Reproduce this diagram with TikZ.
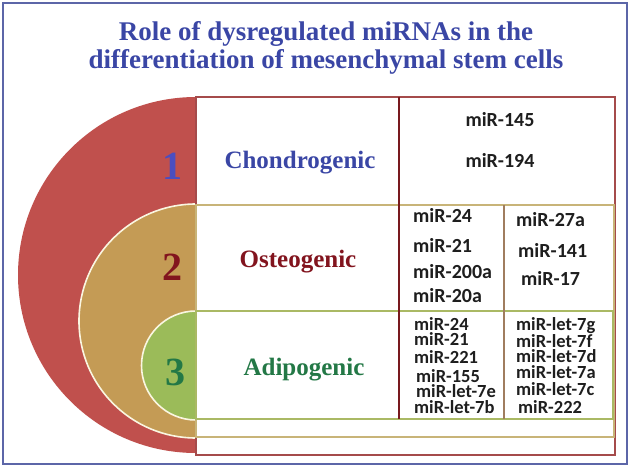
\documentclass[tikz,border=0pt]{standalone}
\usepackage{fontspec}
\setmainfont{Liberation Serif}
\newfontfamily\mirfont{Carlito}
\usepackage{tikz}
\usetikzlibrary{positioning}

\definecolor{titleblue}{RGB}{58,70,165}
\definecolor{framec}{RGB}{92,102,168}
\definecolor{redfill}{RGB}{192,80,77}
\definecolor{tanfill}{RGB}{196,155,85}
\definecolor{greenfill}{RGB}{155,187,89}
\definecolor{ringc}{RGB}{250,246,225}
\definecolor{redline}{RGB}{165,75,75}
\definecolor{tanline}{RGB}{200,180,120}
\definecolor{greenline}{RGB}{170,185,100}
\definecolor{divred}{RGB}{120,25,30}
\definecolor{divbrown}{RGB}{160,125,95}
\definecolor{onecol}{RGB}{75,78,192}
\definecolor{osteocol}{RGB}{130,20,30}
\definecolor{adipocol}{RGB}{35,120,70}
\definecolor{mirtext}{RGB}{30,30,30}

\begin{document}
\begin{tikzpicture}[x=1pt,y=-1pt,
  title/.style={font=\fontsize{27}{32}\selectfont\bfseries,text=titleblue,anchor=base,inner sep=0pt},
  typ/.style={font=\fontsize{25}{30}\selectfont\bfseries,anchor=base,inner sep=0pt},
  num/.style={font=\fontsize{40}{48}\selectfont\bfseries,anchor=base,inner sep=0pt},
  mir/.style={font=\mirfont\bfseries\fontsize{18.5}{20}\selectfont,text=mirtext,anchor=base west,inner sep=0pt},
  mirbig/.style={mir,font=\mirfont\bfseries\fontsize{20}{22}\selectfont},
  row/.style={fill=white,line width=1.8pt}]
  \useasboundingbox (0,0) rectangle (630,469);
  \draw[framec,line width=2pt] (3,3) rectangle (627,464);

  % ---------- titulo ----------
  \node[title] (title1) at (326,40) {Role of dysregulated miRNAs in the};
  \node[title] (title2) at (326,68) {differentiation of mesenchymal stem cells};

  % ---------- semicirculos ----------
  \fill[redfill] (196,97) arc[start angle=270,end angle=90,radius=178] -- cycle;
  \fill[tanfill] (196,204) arc[start angle=270,end angle=90,radius=117] -- cycle;
  \draw[ringc,line width=1.6pt] (196,204) arc[start angle=270,end angle=90,radius=117];
  \fill[greenfill] (196,311) arc[start angle=270,end angle=90,radius=54.5] -- cycle;
  \draw[ringc,line width=1.6pt] (196,311) arc[start angle=270,end angle=90,radius=54.5];

  % ---------- tabela ----------
  \draw[row,draw=redline] (196,97) rectangle (615,455);
  \draw[row,draw=tanline] (196,205) rectangle (614,437);
  \draw[row,draw=greenline] (196,311) rectangle (613,419);
  \draw[divred,line width=1.8pt] (399,97) -- (399,419);
  \draw[divbrown,line width=1.6pt] (504,205) -- (504,419);

  % ---------- tipos de diferenciacao ----------
  \node[num,text=onecol] (n1) at (172,179) {1};
  \node[num,text=osteocol] (n2) at (172,280) {2};
  \node[num,text=adipocol] (n3) at (175,385) {3};
  \node[typ,text=titleblue] (chondro) at (300,168) {Chondrogenic};
  \node[typ,text=osteocol] (osteo) at (298,267) {Osteogenic};
  \node[typ,text=adipocol] (adipo) at (304,375) {Adipogenic};

  % ---------- condrogenica ----------
  \node[mirbig,anchor=base] (c1) at (500,126) {miR-145};
  \node[mirbig,anchor=base] (c2) at (500,167) {miR-194};

  % ---------- osteogenica ----------
  \node[mirbig] (o1) at (413,222) {miR-24};
  \node[mirbig] (o2) at (413,252) {miR-21};
  \node[mirbig] (o3) at (413,278) {miR-200a};
  \node[mirbig] (o4) at (413,302) {miR-20a};
  \node[mirbig] (o5) at (516,226) {miR-27a};
  \node[mirbig] (o6) at (518,257) {miR-141};
  \node[mirbig] (o7) at (521,285) {miR-17};

  % ---------- adipogenica ----------
  \node[mir] (a1) at (414,330) {miR-24};
  \node[mir] (a2) at (414,345) {miR-21};
  \node[mir] (a3) at (414,363) {miR-221};
  \node[mir] (a4) at (416,382) {miR-155};
  \node[mir] (a5) at (416,397) {miR-let-7e};
  \node[mir] (a6) at (414,413) {miR-let-7b};
  \node[mir] (a7) at (516,330) {miR-let-7g};
  \node[mir] (a8) at (516,347) {miR-let-7f};
  \node[mir] (a9) at (516,362) {miR-let-7d};
  \node[mir] (a10) at (516,378) {miR-let-7a};
  \node[mir] (a11) at (516,395) {miR-let-7c};
  \node[mir] (a12) at (518,413) {miR-222};
\end{tikzpicture}
\end{document}
